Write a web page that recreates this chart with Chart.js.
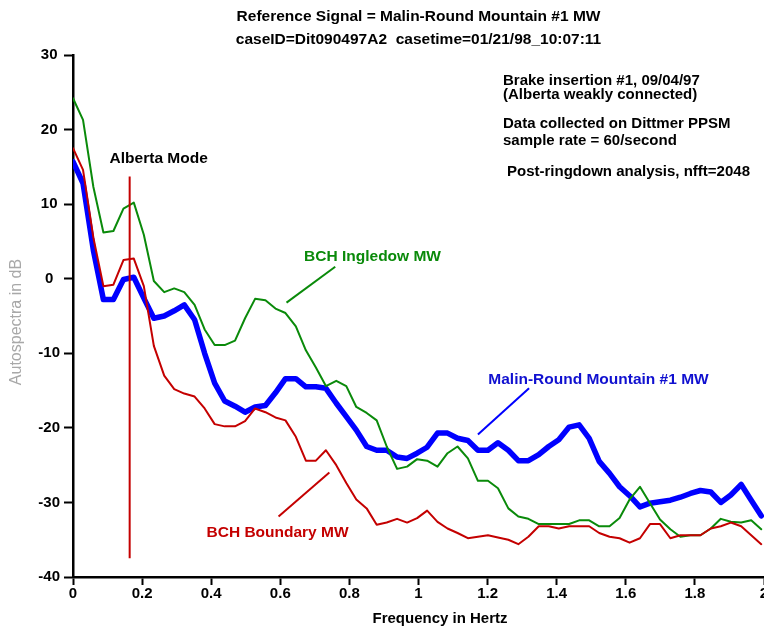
<!DOCTYPE html>
<html>
<head>
<meta charset="utf-8">
<script src="https://cdn.jsdelivr.net/npm/chart.js@4.4.1/dist/chart.umd.min.js"></script>
<style>
	html, body { margin: 0; padding: 0; overflow: hidden; background: #fff; }
	canvas { display: block; }
</style>
</head>
<body>
<canvas id="chart" width="800" height="630"></canvas>
<script>
// FFT bins, 60 samples/s, nfft=2048
const freqs = [0, 0.029, 0.059, 0.088, 0.117, 0.146, 0.176, 0.205, 0.234, 0.264,
	0.293, 0.322, 0.352, 0.381, 0.410, 0.439, 0.469, 0.498, 0.527, 0.557,
	0.586, 0.615, 0.645, 0.674, 0.703, 0.732, 0.762, 0.791, 0.820, 0.850,
	0.879, 0.908, 0.938, 0.967, 0.996, 1.025, 1.055, 1.084, 1.113, 1.143,
	1.172, 1.201, 1.230, 1.260, 1.289, 1.318, 1.348, 1.377, 1.406, 1.436,
	1.465, 1.494, 1.523, 1.553, 1.582, 1.611, 1.641, 1.670, 1.699, 1.729,
	1.758, 1.787, 1.816, 1.846, 1.875, 1.904, 1.934, 1.963, 1.992];

const malinRound = [15.7, 12.8, 3.8, -2.8, -2.8, -0.1, 0.2, -2.6, -5.3, -5.0,
	-4.3, -3.5, -5.5, -10.0, -14.0, -16.4, -17.1, -17.9, -17.2, -17.0,
	-15.3, -13.4, -13.4, -14.5, -14.5, -14.7, -16.7, -18.5, -20.3, -22.5,
	-23.0, -23.0, -23.9, -24.1, -23.4, -22.6, -20.7, -20.7, -21.4, -21.7,
	-23.0, -23.0, -22.0, -23.0, -24.4, -24.4, -23.6, -22.5, -21.6, -19.9,
	-19.6, -21.4, -24.5, -26.1, -27.9, -29.1, -30.6, -30.1, -29.9, -29.7,
	-29.3, -28.8, -28.4, -28.6, -30.0, -29.0, -27.6, -29.7, -31.8];

const ingledow = [24.2, 21.3, 12.3, 6.2, 6.4, 9.4, 10.2, 5.9, -0.3, -1.8,
	-1.3, -1.8, -3.5, -6.8, -8.9, -8.9, -8.3, -5.3, -2.7, -2.9,
	-4.0, -4.6, -6.4, -9.6, -11.9, -14.4, -13.7, -14.4, -17.2, -18.0,
	-19.0, -22.5, -25.5, -25.2, -24.2, -24.4, -25.2, -23.4, -22.5, -24.1,
	-27.1, -27.1, -28.1, -30.8, -31.9, -32.2, -32.9, -32.9, -32.9, -32.9,
	-32.4, -32.4, -33.2, -33.2, -32.1, -29.6, -27.9, -30.1, -32.3, -33.6,
	-34.6, -34.4, -34.4, -33.5, -32.2, -32.6, -32.7, -32.4, -33.6];

const boundary = [17.5, 14.6, 5.5, -1.0, -0.8, 2.5, 2.7, -1.0, -9.0, -13.0,
	-14.8, -15.4, -15.8, -17.4, -19.5, -19.8, -19.8, -19.1, -17.4, -17.9,
	-18.6, -19.0, -21.2, -24.4, -24.4, -23.0, -25.0, -27.4, -29.6, -30.8,
	-33.0, -32.7, -32.2, -32.7, -32.1, -31.1, -32.6, -33.5, -34.1, -34.8,
	-34.6, -34.4, -34.7, -35.0, -35.6, -34.6, -33.2, -33.2, -33.5, -33.2,
	-33.2, -33.2, -34.1, -34.6, -34.8, -35.4, -34.8, -32.9, -32.9, -34.8,
	-34.4, -34.4, -34.4, -33.5, -33.2, -32.7, -33.2, -34.4, -35.6];

const albertaModeHz = 0.164;

const FONT = '"Liberation Sans", Arial, sans-serif';
const RED = '#c40000';
const GREEN = '#0a8a0a';
const BLUE = '#0000ff';

function toPoints(xs, ys) {
	return xs.map((x, i) => ({x: x, y: ys[i]}));
}

// labels + leader lines, placed in data units
const notes = [
	{text: 'Alberta Mode', x: 0.248, y: 16.1, color: '#000'},
	{text: 'BCH Ingledow MW', x: 0.867, y: 2.9, color: GREEN, line: [0.618, -3.2, 0.759, 1.6]},
	{text: 'Malin-Round Mountain #1 MW', x: 1.521, y: -13.5, color: '#1010d0', line: [1.172, -20.9, 1.32, -14.7], lineColor: BLUE},
	{text: 'BCH Boundary MW', x: 0.592, y: -34.1, color: RED, line: [0.595, -31.9, 0.742, -26.0]}
];

const infoLines = [
	{text: 'Brake insertion #1, 09/04/97', x: 503, y: 81},
	{text: '(Alberta weakly connected)', x: 503, y: 95},
	{text: 'Data collected on Dittmer PPSM', x: 503, y: 124},
	{text: 'sample rate = 60/second', x: 503, y: 141},
	{text: 'Post-ringdown analysis, nfft=2048', x: 507, y: 172}
];

const annotations = {
	id: 'annotations',
	afterDatasetsDraw(chart) {
		const {ctx, chartArea, scales: {x, y}} = chart;
		ctx.save();

		// Alberta mode marker
		ctx.strokeStyle = RED;
		ctx.lineWidth = 2;
		ctx.beginPath();
		ctx.moveTo(x.getPixelForValue(albertaModeHz), y.getPixelForValue(13.7));
		ctx.lineTo(x.getPixelForValue(albertaModeHz), y.getPixelForValue(-37.5));
		ctx.stroke();

		ctx.textAlign = 'center';
		ctx.textBaseline = 'middle';
		ctx.font = 'bold 15.5px ' + FONT;
		notes.forEach(n => {
			ctx.fillStyle = n.color;
			ctx.fillText(n.text, x.getPixelForValue(n.x), y.getPixelForValue(n.y));
			if (n.line) {
				ctx.strokeStyle = n.lineColor || n.color;
				ctx.lineWidth = 2;
				ctx.beginPath();
				ctx.moveTo(x.getPixelForValue(n.line[0]), y.getPixelForValue(n.line[1]));
				ctx.lineTo(x.getPixelForValue(n.line[2]), y.getPixelForValue(n.line[3]));
				ctx.stroke();
			}
		});

		ctx.fillStyle = '#000';
		ctx.textAlign = 'left';
		ctx.font = 'bold 15px ' + FONT;
		infoLines.forEach(l => ctx.fillText(l.text, l.x, l.y));

		// titles
		const cx = (chartArea.left + chartArea.right) / 2;
		ctx.textAlign = 'center';
		ctx.font = 'bold 15.5px ' + FONT;
		ctx.fillText('Reference Signal = Malin-Round Mountain #1 MW', cx, 17);
		ctx.fillText('caseID=Dit090497A2  casetime=01/21/98_10:07:11', cx, 40);
		ctx.font = 'bold 15px ' + FONT;
		ctx.fillText('Frequency in Hertz', 440, 619);

		ctx.translate(17, 322);
		ctx.rotate(-Math.PI / 2);
		ctx.fillStyle = '#a8a8a8';
		ctx.font = '16px ' + FONT;
		ctx.fillText('Autospectra in dB', 0, 0);
		ctx.restore();
	}
};

const config = {
	type: 'line',
	data: {
		datasets: [
			{
				label: 'BCH Boundary MW',
				data: toPoints(freqs, boundary),
				borderColor: RED,
				borderWidth: 2
			},
			{
				label: 'BCH Ingledow MW',
				data: toPoints(freqs, ingledow),
				borderColor: GREEN,
				borderWidth: 2
			},
			{
				label: 'Malin-Round Mountain #1 MW',
				data: toPoints(freqs, malinRound),
				borderColor: BLUE,
				borderWidth: 5.5
			}
		]
	},
	options: {
		responsive: false,
		animation: false,
		elements: {
			point: {radius: 0},
			line: {tension: 0, borderJoinStyle: 'round', borderCapStyle: 'round'}
		},
		layout: {
			padding: {left: 0, right: 36, top: 55, bottom: 0}
		},
		plugins: {
			legend: {display: false},
			title: {display: false},
			tooltip: {enabled: false}
		},
		scales: {
			x: {
				type: 'linear',
				min: 0,
				max: 2,
				border: {display: true, color: '#000', width: 2.5},
				grid: {drawOnChartArea: false, drawTicks: true, tickLength: 8, tickWidth: 2, tickColor: '#000'},
				ticks: {
					stepSize: 0.2,
					padding: 0,
					color: '#000',
					maxRotation: 0,
					font: {family: FONT, size: 15, weight: 'bold'},
					callback: v => String(+v.toFixed(1))
				},
				afterFit: scale => { scale.height = 53; }
			},
			y: {
				min: -40,
				max: 30,
				border: {display: true, color: '#000', width: 2.5},
				grid: {drawOnChartArea: false, drawTicks: true, tickLength: 9, tickWidth: 2, tickColor: '#000'},
				ticks: {
					stepSize: 10,
					padding: 4,
					crossAlign: 'center',
					color: '#000',
					font: {family: FONT, size: 15, weight: 'bold'}
				},
				afterFit: scale => { scale.width = 73; }
			}
		}
	},
	plugins: [annotations]
};

const myChart = new Chart(document.getElementById('chart'), config);
</script>
</body>
</html>
